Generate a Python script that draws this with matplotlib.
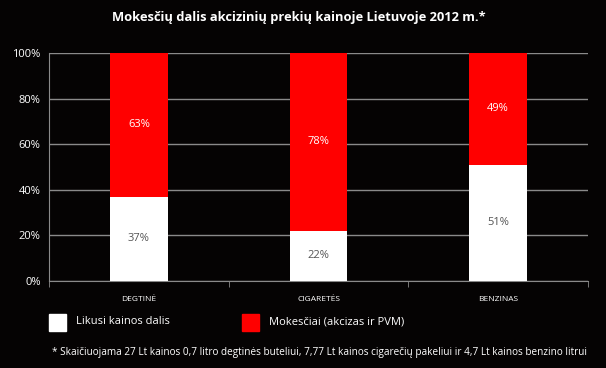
import numpy as np
import matplotlib.pyplot as plt
from matplotlib.patches import Rectangle

# Duomenys
kategorijos = ['DEGTINĖ', 'CIGARETĖS', 'BENZINAS']
likusi = [37, 22, 51]
mokesciai = [63, 78, 49]
y_zymes = ['0%', '20%', '40%', '60%', '80%', '100%']

plt.rcParams['font.family'] = ['Open Sans', 'DejaVu Sans']

fig = plt.figure(figsize=(6.06, 3.68), dpi=100, facecolor='#050303')
ax = fig.add_axes([49/606, 1 - 281/368, 539/606, 228/368])
ax.set_facecolor('#050303')

x = np.arange(len(kategorijos))
w = 0.32
ax.bar(x, likusi, w, color='white', zorder=3)
ax.bar(x, mokesciai, w, bottom=likusi, color='#ff0000', zorder=3)

for i in range(len(kategorijos)):
    ax.text(x[i], likusi[i] / 2, f'{likusi[i]}%', ha='center', va='center',
            color='#555555', fontsize=8, zorder=4)
    ax.text(x[i], likusi[i] + mokesciai[i] / 2, f'{mokesciai[i]}%', ha='center',
            va='center', color='white', fontsize=8, zorder=4)

ax.set_xlim(-0.5, 2.5)
ax.set_ylim(0, 100)
ax.set_yticks(np.arange(0, 101, 20))
ax.set_yticklabels(y_zymes, color='white', fontsize=8)
ax.yaxis.grid(True, color='#8a8a8a', linewidth=1, zorder=0)
ax.set_xticks(x)
ax.set_xticklabels(kategorijos, color='white', fontsize=6)
ax.tick_params(axis='x', length=0, pad=11)
ax.tick_params(axis='y', length=0, pad=6)
ax.set_xticks([-0.5, 0.5, 1.5, 2.5], minor=True)
ax.tick_params(axis='x', which='minor', length=4, color='#8a8a8a', direction='out')
for s in ['top', 'right']:
    ax.spines[s].set_visible(False)
ax.spines['left'].set_color('#8a8a8a')
ax.spines['bottom'].set_color('#8a8a8a')

fig.text(0.493, 1 - 17/368, 'Mokesčių dalis akcizinių prekių kainoje Lietuvoje 2012 m.*',
         ha='center', va='center', color='white', fontsize=9.3, fontweight='bold')

# Legenda
fig.patches.append(Rectangle((49/606, 1 - 331/368), 17/606, 17/368,
                             transform=fig.transFigure, color='white'))
fig.text(76/606, 1 - 322/368, 'Likusi kainos dalis', color='white', fontsize=8, va='center')
fig.patches.append(Rectangle((242/606, 1 - 331/368), 17/606, 17/368,
                             transform=fig.transFigure, color='#ff0000'))
fig.text(269/606, 1 - 322/368, 'Mokesčiai (akcizas ir PVM)', color='white', fontsize=8, va='center')

fig.text(52/606, 1 - 352/368,
         '* Skaičiuojama 27 Lt kainos 0,7 litro degtinės buteliui, 7,77 Lt kainos cigarečių pakeliui ir 4,7 Lt kainos benzino litrui',
         color='white', fontsize=7.2, va='center')

fig.savefig('out.png', dpi=100, facecolor=fig.get_facecolor())
